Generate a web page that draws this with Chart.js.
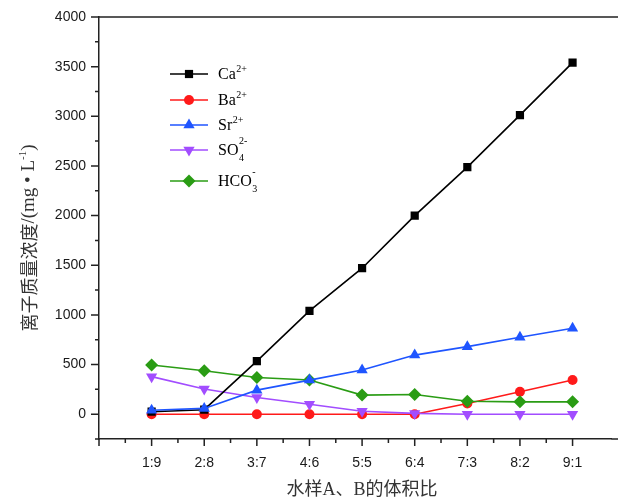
<!DOCTYPE html>
<html>
<head>
<meta charset="utf-8">
<script src="https://cdn.jsdelivr.net/npm/chart.js"></script>
<style>
  body { margin: 0; background: #fff; }
  #wrap { width: 618px; height: 504px; }
</style>
</head>
<body>
<div id="wrap"><canvas id="grafico" width="618" height="504"></canvas></div>
<script>
// proporciones de mezcla (eje x)
const categorias = ['1:9', '2:8', '3:7', '4:6', '5:5', '6:4', '7:3', '8:2', '9:1'];

// concentraciones, mg/L
const ca = [25, 45, 535, 1040, 1470, 2000, 2488, 3012, 3540];
const ba = [0, 0, 0, 0, 0, 0, 108, 226, 344];
const sr = [40, 58, 242, 343, 445, 595, 680, 775, 865];
const so4 = [378, 253, 168, 100, 30, 8, 0, 0, 0];
const hco3 = [495, 438, 370, 345, 192, 198, 130, 124, 124];

// leyenda: simbolo, subindice y carga
const nombres = ['Ca', 'Ba', 'Sr', 'SO', 'HCO'];
const subindices = ['', '', '', '4', '3'];
const cargas = ['2+', '2+', '2+', '2-', '-'];

const serif = '"Liberation Serif", "Noto Sans CJK SC", serif';
const sans = '"Liberation Sans", Arial, sans-serif';

function puntos(valores) {
    return valores.map((v, i) => ({ x: i + 1, y: v }));
}

function serie(label, valores, color, estilo, radio, rotacion, orden) {
    return {
        label: label,
        data: puntos(valores),
        borderColor: color,
        backgroundColor: color,
        borderWidth: 1.6,
        pointStyle: estilo,
        pointRadius: radio,
        pointRotation: rotacion,
        pointBorderWidth: 0,
        pointBackgroundColor: color,
        fill: false,
        tension: 0,
        order: orden
    };
}

// marcas de los ejes y linea superior
const marcasEjes = {
    id: 'marcasEjes',
    afterDraw(chart) {
        const ctx = chart.ctx;
        const { left, right, top, bottom } = chart.chartArea;
        const xs = chart.scales.x, ys = chart.scales.y;
        ctx.save();
        ctx.strokeStyle = '#222';
        ctx.lineWidth = 1.5;
        ctx.beginPath();
        ctx.moveTo(left, top);
        ctx.lineTo(618, top);
        ys.ticks.forEach(t => {
            const py = ys.getPixelForValue(t.value);
            const len = t.value % 500 === 0 ? 8 : 4;
            ctx.moveTo(left - len, py);
            ctx.lineTo(left, py);
        });
        xs.ticks.forEach(t => {
            const px = xs.getPixelForValue(t.value);
            const len = Math.abs(t.value - Math.round(t.value)) < 1e-6 ? 7 : 4;
            ctx.moveTo(px, bottom);
            ctx.lineTo(px, bottom + len);
        });
        ctx.moveTo(right, bottom);
        ctx.lineTo(618, bottom);
        ctx.stroke();

        // titulos de los ejes
        ctx.fillStyle = '#333';
        ctx.textBaseline = 'middle';
        ctx.textAlign = 'center';
        ctx.font = '18px ' + serif;
        ctx.fillText('水样A、B的体积比', 362, 490);

        const partes = [
            { t: '离子质量浓度', f: '18px "Noto Sans CJK SC"', dy: 0 },
            { t: '/(mg • L', f: '19px ' + serif, dy: 0 },
            { t: '-1', f: '11px ' + serif, dy: -6 },
            { t: ')', f: '19px ' + serif, dy: 0 }
        ];
        let total = 0;
        partes.forEach(p => { ctx.font = p.f; p.w = ctx.measureText(p.t).width; total += p.w; });
        ctx.translate(29, 238);
        ctx.rotate(-Math.PI / 2);
        ctx.textAlign = 'left';
        let x = -total / 2;
        partes.forEach(p => {
            ctx.font = p.f;
            ctx.fillText(p.t, x, p.dy);
            x += p.w;
        });
        ctx.restore();
    }
};

// leyenda dentro del area del grafico
const leyenda = {
    id: 'leyenda',
    afterDraw(chart) {
        const ctx = chart.ctx;
        const filas = [74, 100, 125, 150, 181];
        ctx.save();
        chart.data.datasets.forEach((ds, i) => {
            const y = filas[i];
            ctx.strokeStyle = ds.borderColor;
            ctx.fillStyle = ds.borderColor;
            ctx.lineWidth = ds.borderWidth;
            ctx.beginPath();
            ctx.moveTo(170, y);
            ctx.lineTo(208, y);
            ctx.stroke();
            Chart.helpers.drawPoint(ctx, {
                pointStyle: ds.pointStyle,
                rotation: ds.pointRotation,
                radius: ds.pointRadius,
                borderWidth: 0
            }, 189, y);

            ctx.fillStyle = '#000';
            ctx.textAlign = 'left';
            ctx.textBaseline = 'alphabetic';
            const base = y + 4.5;
            ctx.font = '16px ' + serif;
            ctx.fillText(nombres[i], 218, base);
            const x0 = 218 + ctx.measureText(nombres[i]).width + 0.5;
            ctx.font = '10px ' + serif;
            if (subindices[i]) {
                ctx.fillText(subindices[i], x0, base + 6);
                ctx.fillText(cargas[i], x0, base - 11);
            } else {
                ctx.fillText(cargas[i], x0, base - 7);
            }
        });
        ctx.restore();
    }
};

new Chart(document.getElementById('grafico'), {
    type: 'line',
    data: {
        datasets: [
            serie('Ca²⁺', ca, '#000000', 'rect', 5.8, 0, 1),
            serie('Ba²⁺', ba, '#ff1a1a', 'circle', 5, 0, 3),
            serie('Sr²⁺', sr, '#1f55ff', 'triangle', 6.5, 0, 0),
            serie('SO₄²⁻', so4, '#a24dff', 'triangle', 6.5, 180, 2),
            serie('HCO₃⁻', hco3, '#2a9c14', 'rectRot', 6.5, 0, 2)
        ]
    },
    options: {
        responsive: false,
        animation: false,
        devicePixelRatio: 1,
        layout: { padding: { left: 0, top: 17, right: 0, bottom: 0 } },
        plugins: {
            legend: { display: false },
            tooltip: { enabled: false }
        },
        scales: {
            x: {
                type: 'linear',
                min: 0,
                max: 9.74,
                afterBuildTicks: scale => {
                    scale.ticks = scale.ticks.filter(t => Math.abs(t.value * 2 - Math.round(t.value * 2)) < 1e-6);
                },
                afterFit: scale => {
                    scale.height = 65;
                    scale.paddingLeft = 0;
                    scale.paddingRight = 0;
                },
                grid: { drawOnChartArea: false, drawTicks: false },
                border: { display: true, color: '#222', width: 1.5 },
                ticks: {
                    stepSize: 0.5,
                    autoSkip: false,
                    maxRotation: 0,
                    padding: 16,
                    color: '#1a1a1a',
                    font: { family: sans, size: 14 },
                    callback: v => {
                        const r = Math.round(v);
                        return Math.abs(v - r) < 1e-6 && r >= 1 && r <= 9 ? categorias[r - 1] : '';
                    }
                }
            },
            y: {
                min: -250,
                max: 4000,
                afterFit: scale => {
                    scale.width = 99;
                    scale.paddingTop = 0;
                    scale.paddingBottom = 0;
                },
                grid: { drawOnChartArea: false, drawTicks: false },
                border: { display: true, color: '#222', width: 1.5 },
                ticks: {
                    stepSize: 250,
                    autoSkip: false,
                    padding: 13,
                    color: '#1a1a1a',
                    font: { family: sans, size: 14 },
                    callback: v => (v >= 0 && v % 500 === 0) ? v : ''
                }
            }
        }
    },
    plugins: [marcasEjes, leyenda]
});
</script>
</body>
</html>
